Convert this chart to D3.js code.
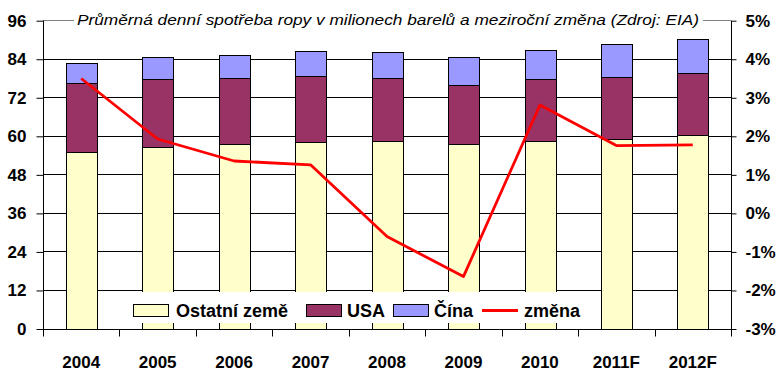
<!DOCTYPE html>
<html>
<head>
<meta charset="utf-8">
<script src="https://cdn.jsdelivr.net/npm/d3@7"></script>
<style>
  html, body { margin: 0; padding: 0; background: #fff; }
  svg { display: block; }
  text { font-family: "Liberation Sans", Arial, sans-serif; }
</style>
</head>
<body>
<svg id="chart" width="783" height="380"></svg>
<script>
// ---- data ----
const categories = ["2004", "2005", "2006", "2007", "2008", "2009", "2010", "2011F", "2012F"];
const ostatni = [55.2, 56.6, 57.5, 58.2, 58.5, 57.5, 58.5, 59.1, 60.4];
const usa     = [21.3, 21.2, 20.6, 20.5, 19.6, 18.4, 19.3, 19.3, 19.4];
const cina    = [6.3, 6.8, 7.2, 7.8, 8.2, 8.7, 9.0, 10.3, 10.4];
const zmena   = [3.5, 1.93, 1.36, 1.26, -0.6, -1.64, 2.81, 1.76, 1.78];
const leftTicks = [0, 12, 24, 36, 48, 60, 72, 84, 96];
const rightTicks = [-3, -2, -1, 0, 1, 2, 3, 4, 5];
const seriesNames = ["Ostatní země", "USA", "Čína", "změna"];
const seriesColors = ["#ffffcc", "#993366", "#9999ff", "#ff0000"];
const title = "Průměrná denní spotřeba ropy v milionech barelů a meziroční změna (Zdroj: EIA)";

// ---- layout ----
const svg = d3.select("#chart");
const x0 = 43, x1 = 731, yTop = 20.7, yBot = 329;

const x = d3.scaleBand().domain(categories).range([x0, x1]).paddingInner(0.6).paddingOuter(0.3);
const y = d3.scaleLinear().domain([0, 96]).range([yBot, yTop]);
const y2 = d3.scaleLinear().domain([-3, 5]).range([yBot, yTop]);

// gridlines
svg.append("g").selectAll("line").data(leftTicks.filter(d => d > 0)).join("line")
  .attr("x1", x0).attr("x2", x1)
  .attr("y1", d => y(d)).attr("y2", d => y(d))
  .attr("stroke", d => d === 96 ? "#808080" : "#000")
  .attr("stroke-width", 1)
  .attr("shape-rendering", "crispEdges");

// stacked bars
const rows = categories.map((c, i) => ({ cat: c, o: ostatni[i], u: usa[i], c2: cina[i] }));
const stack = d3.stack().keys(["o", "u", "c2"])(rows);
svg.append("g").selectAll("g").data(stack).join("g")
  .attr("fill", (d, i) => seriesColors[i])
  .selectAll("rect").data(d => d).join("rect")
  .attr("x", d => Math.round(x(d.data.cat)) + 0.5)
  .attr("width", Math.round(x.bandwidth()))
  .attr("y", d => Math.round(y(d[1])) + 0.5)
  .attr("height", d => Math.round(y(d[0])) - Math.round(y(d[1])))
  .attr("stroke", "#000").attr("stroke-width", 1);

// line
const line = d3.line()
  .x((d, i) => x(categories[i]) + x.bandwidth() / 2)
  .y(d => y2(d));
svg.append("path").datum(zmena)
  .attr("d", line)
  .attr("fill", "none")
  .attr("stroke", seriesColors[3])
  .attr("stroke-width", 2.8)
  .attr("stroke-linejoin", "round");

// axes
const axL = d3.axisLeft(y).tickValues(leftTicks).tickSize(7).tickPadding(10);
const gL = svg.append("g").attr("transform", `translate(${x0 + 0.5},0)`).call(axL);
const axR = d3.axisRight(y2).tickValues(rightTicks).tickSize(5).tickPadding(9)
  .tickFormat(d => d + "%");
const gR = svg.append("g").attr("transform", `translate(${x1 + 0.5},0)`).call(axR);
const tickBounds = d3.range(categories.length + 1).map(i => x0 + i * x.step());
const gB = svg.append("g").attr("transform", `translate(0,${yBot + 0.5})`);
gB.append("line").attr("x1", x0).attr("x2", x1 + 1).attr("stroke", "#000");
gB.selectAll("line.t").data(tickBounds).join("line").attr("class", "t")
  .attr("x1", d => Math.round(d) + 0.5).attr("x2", d => Math.round(d) + 0.5)
  .attr("y1", 0).attr("y2", 7).attr("stroke", "#000");
gB.selectAll("text").data(categories).join("text")
  .attr("x", d => x(d) + x.bandwidth() / 2)
  .attr("y", 38)
  .attr("text-anchor", "middle")
  .attr("font-size", 17).attr("font-weight", "bold")
  .text(d => d);

[gL, gR].forEach(g => {
  g.selectAll(".tick line").attr("stroke", "#000");
  g.selectAll(".tick text").attr("font-size", 17).attr("font-weight", "bold")
    .attr("font-family", "Liberation Sans, Arial, sans-serif").attr("fill", "#000");
});
gL.select(".domain").remove();
gR.select(".domain").remove();
svg.append("line").attr("x1", x0 + 0.5).attr("x2", x0 + 0.5).attr("y1", yTop).attr("y2", yBot).attr("stroke", "#000");
svg.append("line").attr("x1", x1 + 0.5).attr("x2", x1 + 0.5).attr("y1", yTop).attr("y2", yBot).attr("stroke", "#000");

// title
const tg = svg.append("g");
const tt = tg.append("text")
  .attr("x", 77).attr("y", 25)
  .attr("font-size", 15.5).attr("font-style", "italic")
  .attr("textLength", 622).attr("lengthAdjust", "spacingAndGlyphs")
  .attr("fill", "#000")
  .text(title);
const bb = tt.node().getBBox();
tg.insert("rect", "text").attr("x", bb.x - 3).attr("y", bb.y).attr("width", bb.width + 7).attr("height", bb.height).attr("fill", "#fff");

// legend
const lg = svg.append("g");
lg.append("rect").attr("x", 127).attr("y", 292).attr("width", 458).attr("height", 31).attr("fill", "#fff");
const legendX = [133, 306, 393, 482];
const textX = [176, 347, 434, 524];
seriesNames.forEach((n, i) => {
  if (i < 3) {
    lg.append("rect").attr("x", legendX[i] + 0.5).attr("y", 304.5).attr("width", 35).attr("height", 12)
      .attr("fill", seriesColors[i]).attr("stroke", "#000");
  } else {
    lg.append("line").attr("x1", legendX[i]).attr("x2", legendX[i] + 36).attr("y1", 310.5).attr("y2", 310.5)
      .attr("stroke", seriesColors[i]).attr("stroke-width", 2.8);
  }
  lg.append("text").attr("x", textX[i]).attr("y", 317)
    .attr("font-size", 18).attr("font-weight", "bold").text(n);
});
</script>
</body>
</html>
